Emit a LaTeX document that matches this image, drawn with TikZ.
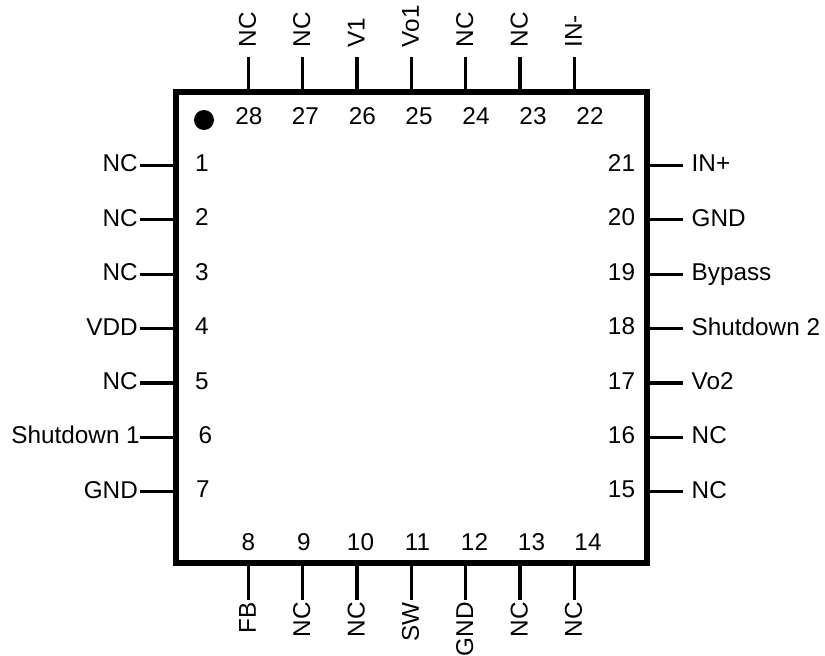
\documentclass[tikz,border=0pt]{standalone}
\usepackage{fontspec}
\setmainfont{Liberation Sans}
\tikzset{
  lead/.style={draw=black,line width=3.2pt},
  lbl/.style={font=\fontsize{24.3}{26}\selectfont,text=black,inner sep=0pt},
  pinnum/.style={lbl,anchor=base},
  sigl/.style={lbl,anchor=base east},
  sigr/.style={lbl,anchor=base west},
  sigt/.style={lbl,anchor=base west,rotate=90},
  sigb/.style={lbl,anchor=base east,rotate=90},
}
\begin{document}
\begin{tikzpicture}[x=1pt,y=-1pt]
\useasboundingbox (0,0) rectangle (825,656);
\node[draw=black,line width=5.8pt,outer sep=0pt,minimum width=471pt,minimum height=471pt,inner sep=0pt,anchor=north west] (chip) at (176,92) {};
\fill[black] (204,120) circle (10);
\foreach \n/\y/\ny/\nx/\ex/\t in {1/165.3/163.5/202/138/NC,2/219.7/217.5/202/138/NC,3/274.1/272/202/138/NC,4/328.5/326/202/138/VDD,5/382.9/381/202/138/NC,6/437.3/435/205.5/140/Shutdown 1,7/491.7/489/203/138/GND}{
  \node[pinnum] (p\n) at (\nx,\ny+8.3) {\n};
  \coordinate (c\n) at (173,\y);
  \coordinate (e\n) at (140,\y);
  \draw[lead] (c\n) -- (e\n);
  \node[sigl] (s\n) at (\ex,\y+6.5) {\t};
}
\foreach \n/\y/\ny/\t in {21/165.3/163.5/IN+,20/219.7/217.5/GND,19/274.1/272/Bypass,18/328.5/326/Shutdown 2,17/382.9/381/Vo2,16/437.3/435/NC,15/491.7/489.5/NC}{
  \node[pinnum] (p\n) at (621.5,\ny+8.3) {\n};
  \coordinate (c\n) at (650,\y);
  \coordinate (e\n) at (683,\y);
  \draw[lead] (c\n) -- (e\n);
  \node[sigr] (s\n) at (691.5,\y+6.5) {\t};
}
\foreach \n/\x/\nx/\t in {28/248.3/249/NC,27/302.6/305.5/NC,26/357/362.5/V1,25/411.3/419/Vo1,24/465.6/476/NC,23/520/533/NC,22/574.3/590/IN-}{
  \node[pinnum] (p\n) at (\nx,124) {\n};
  \coordinate (c\n) at (\x,89);
  \coordinate (e\n) at (\x,57);
  \draw[lead] (c\n) -- (e\n);
  \node[sigt] (s\n) at (\x+7.5,47.5) {\t};
}
\foreach \n/\x/\nx/\t in {8/248.3/248.5/FB,9/302.6/304/NC,10/357/360.5/NC,11/411.3/417.5/SW,12/465.6/474.5/GND,13/520/531.5/NC,14/574.3/588/NC}{
  \node[pinnum] (p\n) at (\nx,550) {\n};
  \coordinate (c\n) at (\x,566);
  \coordinate (e\n) at (\x,600);
  \draw[lead] (c\n) -- (e\n);
  \node[sigb] (s\n) at (\x+7.5,602) {\t};
}
\end{tikzpicture}
\end{document}
